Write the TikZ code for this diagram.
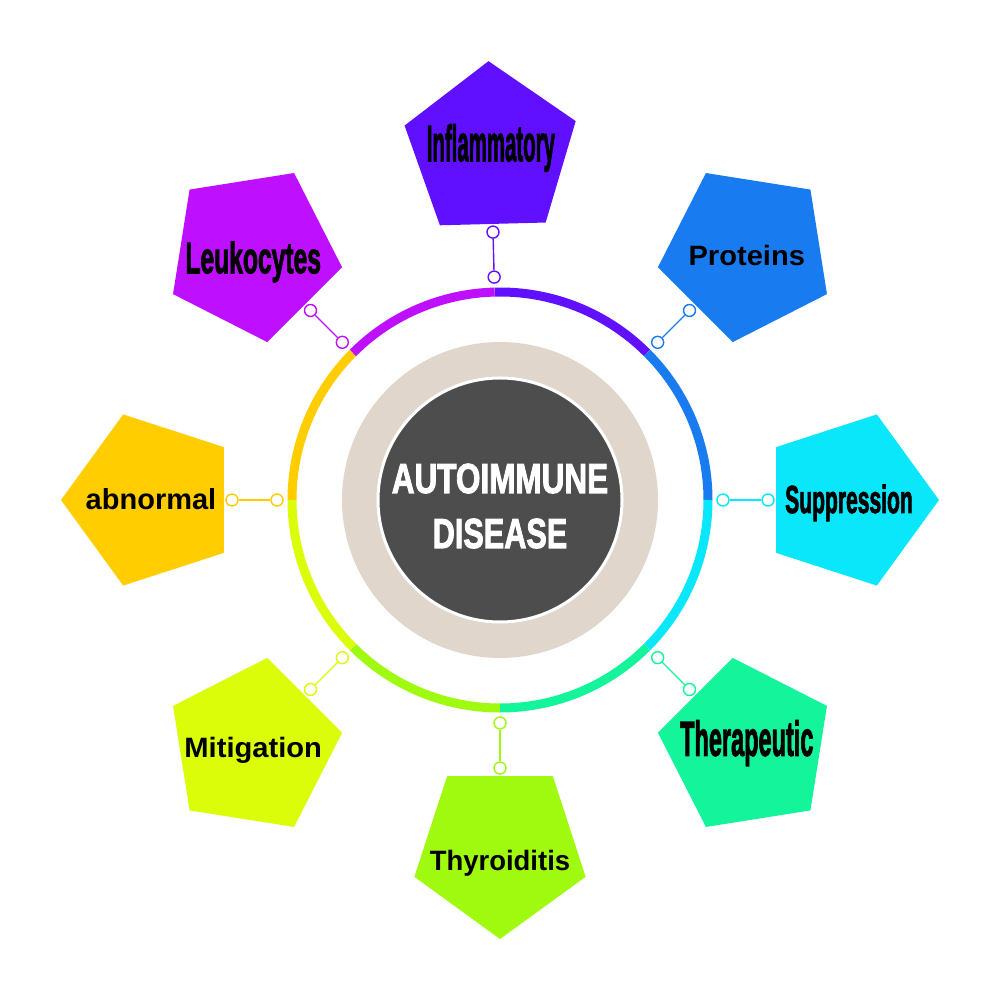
\documentclass[tikz,border=0pt]{standalone}
\usepackage{fontspec}
\setmainfont{Liberation Sans}
\newfontfamily\heavyfont{Liberation Sans}[BoldFeatures={FakeBold=2.5}]
\usepackage{graphicx}
\usetikzlibrary{shapes.geometric}

\definecolor{leuk}{RGB}{190,16,255}
\definecolor{infl}{RGB}{96,16,255}
\definecolor{prot}{RGB}{24,124,240}
\definecolor{supp}{RGB}{10,230,250}
\definecolor{ther}{RGB}{20,245,155}
\definecolor{thyr}{RGB}{160,250,15}
\definecolor{mitig}{RGB}{220,253,10}
\definecolor{abnor}{RGB}{255,205,0}
\definecolor{beige}{RGB}{224,214,203}
\definecolor{core}{RGB}{77,77,77}

% squeezed bold label: x-scale, size, text (narrow ones get heavier strokes)
\newcommand{\sqz}[3]{\scalebox{#1}[1]{\fontsize{#2}{#2}\selectfont
	\ifdim#1pt<0.8pt\heavyfont\fi\bfseries #3}}

\begin{document}
\begin{tikzpicture}[
	pent/.style={regular polygon, regular polygon sides=5, minimum size=180pt, inner sep=0pt},
	knob/.style={circle, draw, fill=white, line width=1.4pt, minimum size=12pt, inner sep=0pt},
	seg/.style={line width=9pt},
	]
	\fill[white] (-500pt,-500pt) rectangle (500pt,500pt);
	\useasboundingbox (-500pt,-500pt) rectangle (500pt,500pt);

	% outer items, clockwise from the top
	\foreach \i/\ang/\angend/\col/\txt/\fs/\xs/\dy in {
		1/91.5/45/infl/Inflammatory/51/0.40/-10,
		2/45/0/prot/Proteins/28/1.04/-12,
		3/0/-45/supp/Suppression/39/0.54/-13,
		4/-45/-90/ther/Therapeutic/49/0.48/-9,
		5/-90/-135/thyr/Thyroiditis/28/0.98/-21,
		6/-135/-180/mitig/Mitigation/28/1.04/-11,
		7/180/135/abnor/abnormal/29/1.0/-10,
		8/135/91.5/leuk/Leukocytes/44/0.56/-20}
	{
		\pgfmathsetmacro{\rot}{\ang-90}
		\node[pent, fill=\col, shape border rotate=\rot] (p\i) at (\ang:349pt) {};
		\node[anchor=base, yshift=\dy pt] (t\i) at (p\i) {\sqz{\xs}{\fs}{\txt}};
		\node[knob, draw=\col] (a\i) at (\ang:223pt) {};
		\node[knob, draw=\col] (b\i) at (\ang:268pt) {};
		\draw[\col, line width=1.4pt] (a\i) -- (b\i);
		\draw[seg, \col] (\ang:208pt) arc[start angle=\ang, end angle=\angend, radius=208pt];
	}

	% centre
	\node[circle, fill=beige, minimum size=316pt, inner sep=0pt] (disc) at (0,0) {};
	\node[circle, fill=core, draw=white, line width=3pt, minimum size=244pt, inner sep=0pt] (hub) at (disc) {};
	\node[anchor=base, white] (title1) at (0pt,7pt) {\sqz{0.75}{42}{AUTOIMMUNE}};
	\node[anchor=base, white] (title2) at (0pt,-48pt) {\sqz{0.73}{42}{DISEASE}};
\end{tikzpicture}
\end{document}
